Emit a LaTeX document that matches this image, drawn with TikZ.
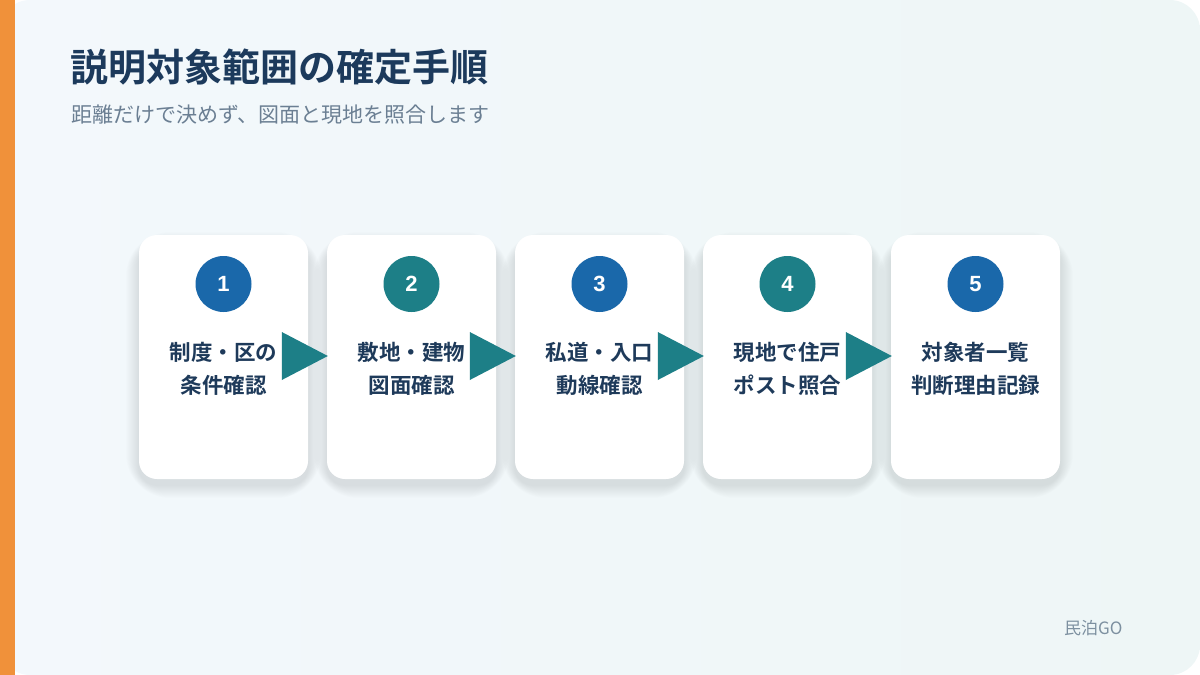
\documentclass[tikz,border=0pt]{standalone}
\usepackage{fontspec}
\setmainfont{Noto Sans CJK JP}[BoldFont={Noto Sans CJK JP Bold}]
\newfontfamily\numfont{Liberation Sans}
\usetikzlibrary{calc}

\pgfdeclarelayer{bglayer}
\pgfdeclarelayer{shadowlayer}
\pgfsetlayers{bglayer,shadowlayer,main}

\definecolor{accent}{HTML}{F0913A}
\definecolor{bgleft}{HTML}{F3F8FC}
\definecolor{bgright}{HTML}{EEF6F6}
\definecolor{titlecol}{HTML}{1C3A5C}
\definecolor{subcol}{HTML}{6B7F93}
\definecolor{textcol}{HTML}{1E3A5A}
\definecolor{stepblue}{HTML}{1A68AA}
\definecolor{stepteal}{HTML}{1D7F87}
\definecolor{footcol}{HTML}{7D90A0}

\begin{document}
\begin{tikzpicture}[
    x=1pt, y=-1pt,
    card/.style={draw=none, fill=white, rounded corners=18, minimum width=169, minimum height=244},
    shadowbox/.style={rectangle, draw=none, fill=textcol, fill opacity=0.006, inner sep=0},
    badge/.style={circle, minimum size=56, inner sep=0, text=white, font=\numfont\bfseries\fontsize{22}{22}\selectfont},
    steptext/.style={align=center, inner sep=0, text=textcol, font=\bfseries\fontsize{21.5}{33}\selectfont},
    arrowhead/.style={fill=stepteal}
]
    \useasboundingbox (0,0) rectangle (1200,675);

    % Background
    \begin{pgfonlayer}{bglayer}
        \shade[rounded corners=30, left color=bgleft, right color=bgright] (0,0) rectangle (1200,675);
        \fill[accent] (0,0) rectangle (15,675);
    \end{pgfonlayer}

    % Title
    \node[anchor=base west, inner sep=0, text=titlecol, font=\bfseries\fontsize{38}{40}\selectfont] (title) at (70,81) {説明対象範囲の確定手順};
    \node[anchor=base west, inner sep=0, text=subcol, font=\fontsize{21}{24}\selectfont] (subtitle) at (71,122) {距離だけで決めず、図面と現地を照合します};

    % Cards
    \node[card] (card1) at (223.5,357) {};
    \node[card] (card2) at (411.5,357) {};
    \node[card] (card3) at (599.5,357) {};
    \node[card] (card4) at (787.5,357) {};
    \node[card] (card5) at (975.5,357) {};

    % soft shadows behind the cards
    \begin{pgfonlayer}{shadowlayer}
        \foreach \c in {card1,card2,card3,card4,card5}
            \foreach \i in {2,4,...,26}
                \node[shadowbox, rounded corners=18pt+\i pt, minimum width=169+\i, minimum height=240+\i]
                    at ($(\c.center)+(0,8)$) {};
    \end{pgfonlayer}

    % Numbers
    \node[badge, fill=stepblue] (num1) at (223.5,284) {1};
    \node[badge, fill=stepteal] (num2) at (411.5,284) {2};
    \node[badge, fill=stepblue] (num3) at (599.5,284) {3};
    \node[badge, fill=stepteal] (num4) at (787.5,284) {4};
    \node[badge, fill=stepblue] (num5) at (975.5,284) {5};

    % Step texts
    \node[steptext] (text1) at (223.5,369) {制度・区の\\条件確認};
    \node[steptext] (text2) at (411.5,369) {敷地・建物\\図面確認};
    \node[steptext] (text3) at (599.5,369) {私道・入口\\動線確認};
    \node[steptext] (text4) at (787.5,369) {現地で住戸\\ポスト照合};
    \node[steptext] (text5) at (975.5,369) {対象者一覧\\判断理由記録};

    % Arrows
    \fill[arrowhead] ($(card2.west)+(1,-1)$) -- ++(-46,-24) -- ++(0,48) -- cycle;
    \fill[arrowhead] ($(card3.west)+(1,-1)$) -- ++(-46,-24) -- ++(0,48) -- cycle;
    \fill[arrowhead] ($(card4.west)+(1,-1)$) -- ++(-46,-24) -- ++(0,48) -- cycle;
    \fill[arrowhead] ($(card5.west)+(1,-1)$) -- ++(-46,-24) -- ++(0,48) -- cycle;

    % Footer
    \node[anchor=base west, inner sep=0, text=footcol, font=\fontsize{17}{20}\selectfont] (footer) at (1064,634) {民泊GO};
\end{tikzpicture}
\end{document}
